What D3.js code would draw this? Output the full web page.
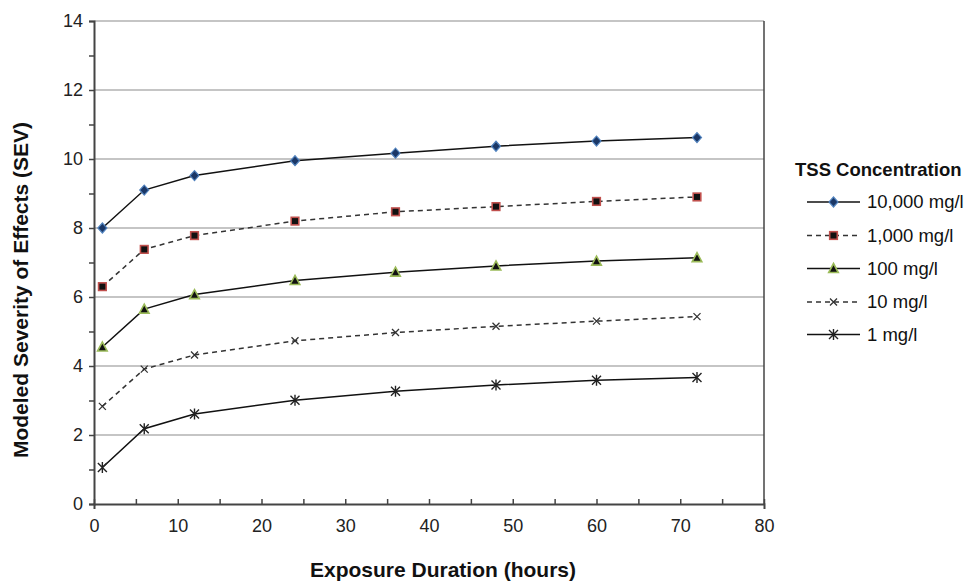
<!DOCTYPE html>
<html><head><meta charset="utf-8">
<script src="https://cdn.jsdelivr.net/npm/d3@7"></script>
<style>body{margin:0;background:#fff}text{font-family:"Liberation Sans",Arial,sans-serif}</style>
</head><body><svg id="c" width="967" height="582"></svg>
<script>
const hours = [1, 6, 12, 24, 36, 48, 60, 72];
const seriesNames = ["10,000 mg/l", "1,000 mg/l", "100 mg/l", "10 mg/l", "1 mg/l"];
const sev10000 = [8.0, 9.1, 9.52, 9.95, 10.17, 10.37, 10.52, 10.62];
const sev1000 = [6.3, 7.38, 7.78, 8.2, 8.47, 8.62, 8.77, 8.9];
const sev100 = [4.55, 5.65, 6.07, 6.48, 6.72, 6.9, 7.04, 7.14];
const sev10 = [2.83, 3.91, 4.32, 4.73, 4.97, 5.15, 5.3, 5.43];
const sev1 = [1.06, 2.18, 2.61, 3.01, 3.27, 3.45, 3.59, 3.67];
const xTicks = [0, 10, 20, 30, 40, 50, 60, 70, 80];
const yTicks = [0, 2, 4, 6, 8, 10, 12, 14];

const svg = d3.select("#c");
const L = 94, R = 764, T = 21, B = 504;
const x = d3.scaleLinear().domain([0, 80]).range([L, R]);
const y = d3.scaleLinear().domain([0, 14]).range([B, T]);

// gridlines
svg.append("g").selectAll("line").data(yTicks.filter(d => d > 0)).join("line")
  .attr("x1", L).attr("x2", R).attr("y1", d => y(d)).attr("y2", d => y(d))
  .attr("stroke", "#8c8c8c").attr("stroke-width", 1.2);
// right border
svg.append("line").attr("x1", R).attr("x2", R).attr("y1", T).attr("y2", B).attr("stroke", "#444").attr("stroke-width", 1.5);

const xAxis = d3.axisBottom(x).tickValues(d3.range(0, 81, 5)).tickSize(5)
  .tickFormat(d => xTicks.includes(d) ? d : "");
const gx = svg.append("g").attr("transform", `translate(0,${B})`).call(xAxis);
gx.select(".domain").attr("stroke", "#444").attr("stroke-width", 2);
gx.selectAll(".tick line").attr("stroke", "#444").attr("stroke-width", 1.5).attr("y1", -5).attr("y2", 0);
gx.selectAll(".tick text").attr("font-size", 18).attr("fill", "#222").attr("y", 28).attr("dy", 0).attr("font-family", "Liberation Sans, Arial");

const yAxis = d3.axisLeft(y).tickValues(d3.range(0, 15, 1)).tickSize(5)
  .tickFormat(d => yTicks.includes(d) ? d : "");
const gy = svg.append("g").attr("transform", `translate(${L},0)`).call(yAxis);
gy.select(".domain").attr("stroke", "#444").attr("stroke-width", 2);
gy.selectAll(".tick line").attr("stroke", "#444").attr("stroke-width", 1.5);
gy.selectAll(".tick text").attr("font-size", 18).attr("fill", "#222").attr("x", -11).attr("font-family", "Liberation Sans, Arial");

const styles = [
  {vals: sev10000, dash: null, marker: "diamond"},
  {vals: sev1000, dash: "5,4", marker: "square"},
  {vals: sev100, dash: null, marker: "triangle"},
  {vals: sev10, dash: "5,4", marker: "x"},
  {vals: sev1, dash: null, marker: "star"}
];

function drawMarker(g, type, cx, cy) {
  const m = g.append("g").attr("transform", `translate(${cx},${cy})`);
  if (type === "diamond") {
    m.append("path").attr("d", "M0,-5L4.5,0L0,5L-4.5,0Z").attr("fill", "#1b3766").attr("stroke", "#4f81bd").attr("stroke-width", 1.2);
  } else if (type === "square") {
    m.append("rect").attr("x", -3.8).attr("y", -3.8).attr("width", 7.6).attr("height", 7.6).attr("fill", "#111").attr("stroke", "#c0504d").attr("stroke-width", 1.6);
  } else if (type === "triangle") {
    m.append("path").attr("d", "M0,-5L4.8,4L-4.8,4Z").attr("fill", "#111").attr("stroke", "#9bbb59").attr("stroke-width", 1.6);
  } else if (type === "x") {
    m.append("path").attr("d", "M-3.5,-3.5L3.5,3.5M-3.5,3.5L3.5,-3.5").attr("stroke", "#333").attr("stroke-width", 1.3);
  } else {
    m.append("path").attr("d", "M-4.5,-4.5L4.5,4.5M-4.5,4.5L4.5,-4.5M0,-5.5L0,5.5").attr("stroke", "#222").attr("stroke-width", 1.4);
  }
}

const line = d3.line().x((d, i) => x(hours[i])).y(d => y(d));
styles.forEach(s => {
  svg.append("path").attr("d", line(s.vals)).attr("fill", "none")
    .attr("stroke", s.dash ? "#333" : "#111").attr("stroke-width", 1.5)
    .attr("stroke-dasharray", s.dash);
  const g = svg.append("g");
  s.vals.forEach((v, i) => drawMarker(g, s.marker, x(hours[i]), y(v)));
});

// axis titles
svg.append("text").attr("x", 443).attr("y", 577).attr("text-anchor", "middle")
  .attr("font-size", 21).attr("font-weight", "bold").attr("fill", "#111").text("Exposure Duration (hours)");
svg.append("text").attr("transform", `translate(28,290) rotate(-90)`).attr("text-anchor", "middle")
  .attr("font-size", 21).attr("font-weight", "bold").attr("fill", "#111").text("Modeled Severity of Effects (SEV)");

// legend
const lg = svg.append("g");
lg.append("text").attr("x", 795).attr("y", 176).attr("font-size", 18.5).attr("font-weight", "bold").attr("fill", "#111").text("TSS Concentration");
const ly = [202, 235.5, 268.5, 302, 334.5];
seriesNames.forEach((n, i) => {
  const s = styles[i];
  lg.append("line").attr("x1", 807).attr("x2", 860).attr("y1", ly[i]).attr("y2", ly[i])
    .attr("stroke", s.dash ? "#333" : "#111").attr("stroke-width", 1.5).attr("stroke-dasharray", s.dash);
  drawMarker(lg, s.marker, 833.5, ly[i]);
  lg.append("text").attr("x", 867).attr("y", ly[i] + 6).attr("font-size", 18.5).attr("fill", "#111").text(n);
});
</script></body></html>
